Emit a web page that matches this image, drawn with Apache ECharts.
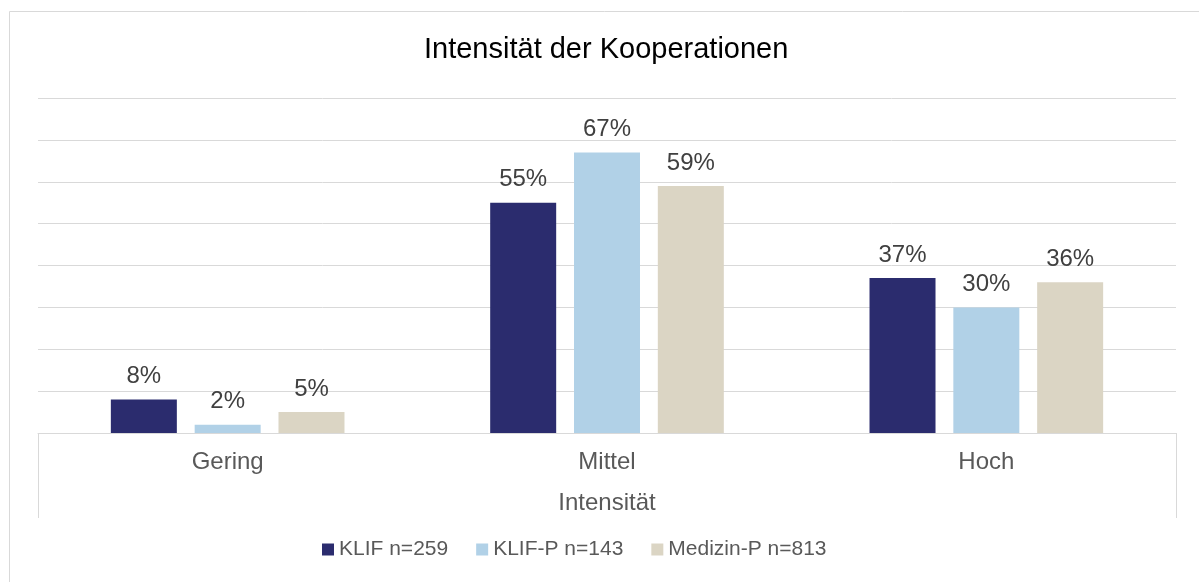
<!DOCTYPE html>
<html>
<head>
<meta charset="utf-8">
<script src="https://cdn.jsdelivr.net/npm/echarts@6/dist/echarts.min.js"></script>
<style>
  html, body { margin: 0; padding: 0; background: #fff; }
  #chart { width: 1199px; height: 582px; }
</style>
</head>
<body>
<div id="chart"></div>
<script>
const categories = ['Gering', 'Mittel', 'Hoch'];
const seriesNames = ['KLIF n=259', 'KLIF-P n=143', 'Medizin-P n=813'];
const klif = [8, 55, 37];
const klifP = [2, 67, 30];
const medizinP = [5, 59, 36];
const colors = ['#2b2c6e', '#b1d1e7', '#dbd5c4'];

const font = '"Liberation Sans", Arial, sans-serif';

const myChart = echarts.init(document.getElementById('chart'));

const makeSeries = (name, data, idx) => ({
  name: name,
  type: 'bar',
  data: data,
  barWidth: 66,
  barGap: '27%',
  itemStyle: { color: colors[idx] },
  label: {
    show: true,
    position: 'top',
    distance: 11,
    formatter: '{c}%',
    fontFamily: font,
    fontSize: 24,
    color: '#404040'
  }
});

myChart.setOption({
  animation: false,
  title: {
    text: 'Intensität der Kooperationen',
    left: 419,
    top: 30,
    textStyle: { fontFamily: font, fontSize: 29, fontWeight: 'normal', color: '#000' }
  },
  graphic: [{
    type: 'rect',
    shape: { x: 9.5, y: 11.5, width: 1300, height: 700 },
    style: { fill: 'none', stroke: '#d9d9d9', lineWidth: 1 },
    silent: true
  }],
  legend: {
    bottom: 17,
    left: 317,
    icon: 'rect',
    itemWidth: 12,
    itemHeight: 12,
    itemGap: 28,
    textStyle: { fontFamily: font, fontSize: 21, color: '#595959' },
    data: seriesNames
  },
  grid: { left: 38, right: 23, top: 98, bottom: 149 },
  xAxis: [{
    type: 'category',
    data: categories,
    axisLine: { lineStyle: { color: '#d9d9d9' } },
    axisTick: { show: false },
    axisLabel: { margin: 17, fontFamily: font, fontSize: 24, color: '#595959' }
  }, {
    type: 'category',
    position: 'bottom',
    data: ['Intensität'],
    axisLine: { show: false },
    axisTick: { show: true, length: 85, lineStyle: { color: '#d9d9d9' } },
    axisLabel: { margin: 58, fontFamily: font, fontSize: 24, color: '#595959' }
  }],
  yAxis: {
    type: 'value',
    min: 0,
    max: 80,
    interval: 10,
    axisLabel: { show: false },
    axisLine: { show: false },
    axisTick: { show: false },
    splitLine: { lineStyle: { color: '#d9d9d9' } }
  },
  series: [
    makeSeries(seriesNames[0], klif, 0),
    makeSeries(seriesNames[1], klifP, 1),
    makeSeries(seriesNames[2], medizinP, 2)
  ]
});

window.addEventListener('resize', () => {
  myChart.resize();
});
</script>
</body>
</html>
